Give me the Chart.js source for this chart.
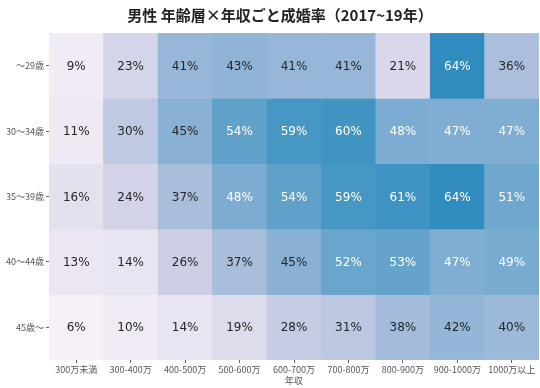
<!DOCTYPE html>
<html>
<head>
<meta charset="utf-8">
<script src="https://cdn.jsdelivr.net/npm/chart.js@4.4.1/dist/chart.umd.min.js"></script>
<style>
  html, body { margin: 0; padding: 0; background: #fff; }
</style>
</head>
<body>
<canvas id="heat" width="540" height="388"></canvas>
<script>
// ---- data ----
const incomeBands = ['300万未満', '300-400万', '400-500万', '500-600万', '600-700万', '700-800万', '800-900万', '900-1000万', '1000万以上'];
const ageGroups = ['～29歳', '30～34歳', '35～39歳', '40～44歳', '45歳～'];

const rateU29 = [9, 23, 41, 43, 41, 41, 21, 64, 36];
const rate30s = [11, 30, 45, 54, 59, 60, 48, 47, 47];
const rate35s = [16, 24, 37, 48, 54, 59, 61, 64, 51];
const rate40s = [13, 14, 26, 37, 45, 52, 53, 47, 49];
const rate45p = [6, 10, 14, 19, 28, 31, 38, 42, 40];

const rateRows = [rateU29, rate30s, rate35s, rate40s, rate45p];

const FONT = '"Noto Sans CJK JP", "Noto Sans", sans-serif';
const NUM_FONT = '"DejaVu Sans", "Noto Sans CJK JP", sans-serif';

// PuBu colormap (matplotlib), value in 0..1
const PUBU = ['#fff7fb', '#ece7f2', '#d0d1e6', '#a6bddb', '#74a9cf', '#3690c0', '#0570b0', '#045a8d', '#023858'];

function hexToRgb(hex) {
  const h = hex.replace('#', '');
  return [0, 2, 4].map(i => parseInt(h.substring(i, i + 2), 16));
}

function pubu(t) {
  t = Math.max(0, Math.min(1, t));
  const pos = t * (PUBU.length - 1);
  const i = Math.min(Math.floor(pos), PUBU.length - 2);
  const f = pos - i;
  const a = hexToRgb(PUBU[i]);
  const b = hexToRgb(PUBU[i + 1]);
  return a.map((c, k) => Math.round(c + (b[k] - c) * f));
}

function cellColor(v) {
  const [r, g, b] = pubu(v / 100);
  return `rgb(${r}, ${g}, ${b})`;
}

// seaborn style: pick text colour from the cell luminance
function textColor(v) {
  const lin = pubu(v / 100).map(c => {
    c = c / 255;
    return c <= 0.03928 ? c / 12.92 : Math.pow((c + 0.055) / 1.055, 2.4);
  });
  const lum = 0.2126 * lin[0] + 0.7152 * lin[1] + 0.0722 * lin[2];
  return lum > 0.408 ? '#262626' : '#ffffff';
}

// ---- plugins ----
const cellLabels = {
  id: 'cellLabels',
  afterDatasetsDraw(chart) {
    const ctx = chart.ctx;
    ctx.save();
    ctx.font = '12px ' + NUM_FONT;
    ctx.textAlign = 'center';
    ctx.textBaseline = 'middle';
    chart.data.datasets.forEach((ds, di) => {
      const meta = chart.getDatasetMeta(di);
      meta.data.forEach((bar, ci) => {
        const v = rateRows[di][ci];
        const p = bar.getCenterPoint();
        ctx.fillStyle = textColor(v);
        ctx.fillText(v + '%', p.x, p.y + 1);
      });
    });
    ctx.restore();
  }
};

const chartTitle = {
  id: 'chartTitle',
  afterDraw(chart) {
    const ctx = chart.ctx;
    ctx.save();
    ctx.font = 'bold 15px ' + FONT;
    ctx.fillStyle = '#222';
    ctx.textAlign = 'center';
    ctx.textBaseline = 'middle';
    ctx.fillText('男性 年齢層×年収ごと成婚率（2017~19年）', 280, 15);
    ctx.restore();
  }
};

// ---- chart ----
new Chart(document.getElementById('heat'), {
  type: 'bar',
  data: {
    labels: incomeBands,
    datasets: rateRows.map((row, i) => ({
      label: ageGroups[i],
      data: row.map(() => 1),
      backgroundColor: row.map(cellColor),
      borderColor: row.map(cellColor),
      borderWidth: 0.5,
      borderSkipped: false,
      barPercentage: 1,
      categoryPercentage: 1
    }))
  },
  options: {
    responsive: false,
    animation: false,
    layout: { padding: { top: 33, right: 1, left: 0, bottom: 0 } },
    plugins: {
      legend: { display: false },
      tooltip: { enabled: false },
      title: { display: false }
    },
    scales: {
      x: {
        stacked: true,
        grid: { display: true, drawOnChartArea: false, drawTicks: true, tickLength: 3, offset: false, color: '#666' },
        border: { display: false },
        ticks: { color: '#555', font: { size: 9, family: FONT }, padding: 1, maxRotation: 0, autoSkip: false },
        title: { display: true, text: '年収', color: '#555', font: { size: 9, family: FONT }, padding: { top: 0, bottom: 2 } },
        afterFit(axis) { axis.height = 28; }
      },
      y: {
        stacked: true,
        reverse: true,
        min: 0,
        max: ageGroups.length,
        afterBuildTicks(axis) {
          axis.ticks = ageGroups.map((_, i) => ({ value: i + 0.5 }));
        },
        grid: { display: true, drawOnChartArea: false, drawTicks: true, tickLength: 3, color: '#666' },
        border: { display: false },
        ticks: {
          color: '#555',
          font: { size: 9, family: FONT },
          padding: 2,
          callback: (v) => ageGroups[Math.floor(v)]
        },
        afterFit(axis) { axis.width = 49; }
      }
    }
  },
  plugins: [cellLabels, chartTitle]
});
</script>
</body>
</html>
